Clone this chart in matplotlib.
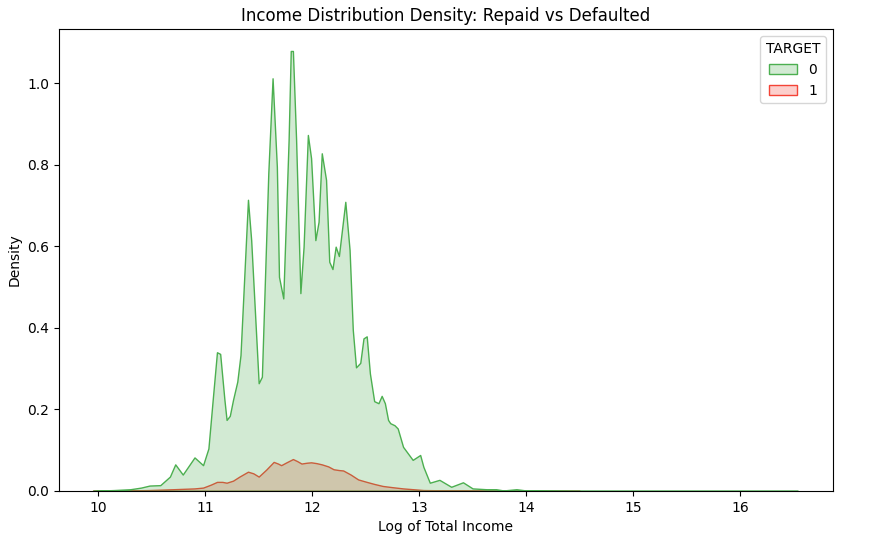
import matplotlib
matplotlib.use("Agg")
import matplotlib.pyplot as plt
from matplotlib.colors import to_rgba
from matplotlib.patches import Patch

# density curves (x = log income, y = density)
repaid_x = [9.95, 10.15, 10.30, 10.40, 10.48, 10.58, 10.67, 10.72, 10.79, 10.90,
            10.98, 11.03, 11.07, 11.11, 11.14, 11.18, 11.20, 11.23, 11.26, 11.30,
            11.33, 11.40, 11.43, 11.50, 11.53, 11.59, 11.63, 11.67, 11.69, 11.73,
            11.78, 11.80, 11.82, 11.85, 11.89, 11.92, 11.96, 11.99, 12.03, 12.06,
            12.09, 12.13, 12.16, 12.19, 12.22, 12.25, 12.31, 12.35, 12.38, 12.41,
            12.45, 12.48, 12.51, 12.54, 12.58, 12.62, 12.65, 12.68, 12.71, 12.73,
            12.77, 12.80, 12.85, 12.94, 13.01, 13.04, 13.10, 13.19, 13.30, 13.41,
            13.50, 13.63, 13.72, 13.79, 13.91, 14.00, 14.50, 15.00, 15.50, 16.00,
            16.54]
repaid_y = [0.000, 0.002, 0.004, 0.008, 0.013, 0.014, 0.035, 0.065, 0.040, 0.082,
            0.063, 0.104, 0.223, 0.340, 0.336, 0.223, 0.174, 0.184, 0.223, 0.268,
            0.333, 0.714, 0.615, 0.264, 0.280, 0.779, 1.012, 0.795, 0.525, 0.472,
            0.861, 1.079, 1.079, 0.861, 0.485, 0.599, 0.873, 0.816, 0.615, 0.660,
            0.828, 0.763, 0.562, 0.544, 0.599, 0.576, 0.709, 0.591, 0.395, 0.303,
            0.314, 0.374, 0.379, 0.288, 0.220, 0.215, 0.233, 0.215, 0.174, 0.166,
            0.161, 0.153, 0.108, 0.076, 0.088, 0.059, 0.020, 0.027, 0.010, 0.021,
            0.006, 0.004, 0.004, 0.001, 0.004, 0.001, 0.000, 0.000, 0.000, 0.000,
            0.000]

default_x = [9.95, 10.30, 10.48, 10.70, 10.90, 10.98, 11.05, 11.11, 11.16, 11.20,
             11.26, 11.32, 11.40, 11.45, 11.50, 11.57, 11.64, 11.68, 11.71, 11.76,
             11.82, 11.86, 11.90, 11.95, 11.99, 12.04, 12.09, 12.15, 12.20, 12.25,
             12.29, 12.36, 12.43, 12.51, 12.58, 12.66, 12.75, 12.85, 13.04, 13.30,
             13.60, 14.00, 14.50]
default_y = [0.000, 0.001, 0.002, 0.004, 0.006, 0.008, 0.015, 0.022, 0.022, 0.020,
             0.025, 0.035, 0.047, 0.043, 0.035, 0.052, 0.071, 0.067, 0.063, 0.070,
             0.078, 0.073, 0.067, 0.069, 0.070, 0.068, 0.065, 0.060, 0.053, 0.051,
             0.050, 0.040, 0.028, 0.022, 0.017, 0.012, 0.009, 0.006, 0.002, 0.001,
             0.0005, 0.000, 0.000]

target_labels = ["0", "1"]
green = "#4CAF50"
red = "#F44336"

fig = plt.figure(figsize=(8.89, 5.4), dpi=100)
ax = fig.add_axes([0.066, 0.091, 0.871, 0.855])

# seaborn draws the last hue level first, edge and fill in one collection
ax.fill_between(default_x, default_y, facecolor=to_rgba(red, 0.25),
                edgecolor=red, linewidth=1)
ax.fill_between(repaid_x, repaid_y, facecolor=to_rgba(green, 0.25),
                edgecolor=green, linewidth=1)

ax.set_xlim(9.63, 16.87)
ax.set_ylim(0, 1.1325)

ax.set_title("Income Distribution Density: Repaid vs Defaulted")
ax.set_xlabel("Log of Total Income")
ax.set_ylabel("Density")

handles = [Patch(facecolor=to_rgba(green, 0.25), edgecolor=green),
           Patch(facecolor=to_rgba(red, 0.25), edgecolor=red)]
ax.legend(handles, target_labels, title="TARGET", loc="upper right")

fig.savefig("out.png", dpi=100)
